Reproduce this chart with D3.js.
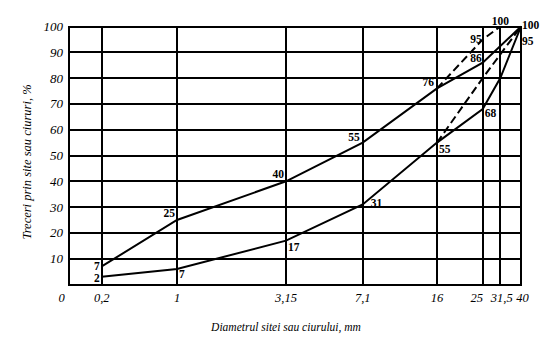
<!DOCTYPE html>
<html><head><meta charset="utf-8">
<script src="https://cdn.jsdelivr.net/npm/d3@7/dist/d3.min.js"></script>
<style>body{margin:0;background:#fff}svg{display:block}
svg text{font-family:"Liberation Serif","Times New Roman","DejaVu Serif",serif}</style>
</head><body><svg id="c" width="557" height="352"></svg>
<script>
const xTicks = [0, 0.2, 1, 3.15, 7.1, 16, 25, 31.5, 40];
const xTickLabels = ["0", "0,2", "1", "3,15", "7,1", "16", "25", "31,5", "40"];
const yTicks = [10, 20, 30, 40, 50, 60, 70, 80, 90, 100];

const upperSieves = [0.2, 1, 3.15, 7.1, 16, 25, 40];
const upperValues = [7, 25, 40, 55, 76, 86, 100];
const upperLabels = ["7", "25", "40", "55", "76", "86", "100"];

const lowerSieves = [0.2, 1, 3.15, 7.1, 16, 25, 31.5, 40];
const lowerValues = [3, 6, 17, 31, 55, 68, 80, 100];
const lowerLabels = ["2", "7", "17", "31", "55", "68", "", "95"];

const upperDashSieves = [16, 25, 31.5];
const upperDashValues = [76, 95, 100];
const upperDashLabels = ["", "95", "100"];

const lowerDashSieves = [16, 25, 40];
const lowerDashValues = [55, 80, 100];

const xTitle = "Diametrul sitei sau ciurului, mm";
const yTitle = "Treceri prin site sau ciururi, %";

const svg = d3.select("#c");
const x = d3.scaleLinear().domain(xTicks).range([69, 101.7, 177, 286, 362.7, 437, 482.7, 500.3, 521]);
const y = d3.scaleLinear().domain([0, 100]).range([284.5, 26.5]);

// grid
const g = svg.append("g").attr("stroke", "#000").attr("stroke-width", 2).attr("shape-rendering", "crispEdges");
g.selectAll("line.h").data([0].concat(yTicks)).join("line").attr("class","h")
  .attr("x1", x(0) - 1).attr("x2", x(40) + 1).attr("y1", d => y(d)).attr("y2", d => y(d));
g.selectAll("line.v").data(xTicks).join("line").attr("class","v")
  .attr("x1", d => x(d)).attr("x2", d => x(d)).attr("y1", y(0) + 1).attr("y2", y(100) - 1);

// y tick labels
svg.append("g").selectAll("text").data(yTicks).join("text")
  .attr("x", 63).attr("y", d => y(d)).attr("dy", "0.35em").attr("text-anchor", "end")
  .attr("font-style", "italic").attr("font-size", 13)
  .text(d => d);

// x tick labels
const xOff = {0: -7.5, 25: -6, 31.5: 1.5, 40: 1.5};
svg.append("g").selectAll("text").data(xTicks).join("text")
  .attr("x", d => x(d) + (xOff[d] || 0)).attr("y", 302).attr("text-anchor", "middle")
  .attr("font-style", "italic").attr("font-size", 12.5)
  .text((d, i) => xTickLabels[i]);

// titles
svg.append("text").attr("x", 286).attr("y", 331).attr("text-anchor", "middle")
  .attr("font-style", "italic").attr("font-size", 11.5).text(xTitle);
svg.append("text").attr("transform", "translate(31,162) rotate(-90)").attr("text-anchor", "middle")
  .attr("font-style", "italic").attr("font-size", 12.5).text(yTitle);

// curves
const line = d3.line().x(d => x(d[0])).y(d => y(d[1]));
function curve(xs, vs, dash) {
  svg.append("path").datum(xs.map((s, i) => [s, vs[i]]))
    .attr("d", line).attr("fill", "none").attr("stroke", "#000").attr("stroke-width", 2)
    .attr("stroke-dasharray", dash || null);
}
curve(upperSieves, upperValues);
curve(lowerSieves, lowerValues);
curve(upperDashSieves, upperDashValues, "8,4");
curve(lowerDashSieves, lowerDashValues, "8,4");

// point labels: [dx, dy, anchor]
const upperPos = [[-2, 4, "end"], [-2, -3, "end"], [-2, -3, "end"], [-3, -2, "end"], [-3, -2, "end"], [-1, -1, "end"], [1, 2, "start"]];
const lowerPos = [[-2, 5, "end"], [2, 9, "start"], [2, 10, "start"], [8, 2, "start"], [2, 10, "start"], [2, 8, "start"], [0, 0, "start"], [1, 18.5, "start"]];
const upperDashPos = [[0,0,"end"], [-1, 4, "end"], [0, -1.5, "middle"]];
function labels(xs, vs, ls, pos) {
  svg.append("g").selectAll("text").data(xs.map((s, i) => ({s, v: vs[i], l: ls[i], p: pos[i]})).filter(d => d.l))
    .join("text")
    .attr("x", d => x(d.s) + d.p[0]).attr("y", d => y(d.v) + d.p[1])
    .attr("text-anchor", d => d.p[2])
    .attr("font-weight", "bold").attr("font-size", 11.5)
    .text(d => d.l);
}
labels(upperSieves, upperValues, upperLabels, upperPos);
labels(lowerSieves, lowerValues, lowerLabels, lowerPos);
labels(upperDashSieves, upperDashValues, upperDashLabels, upperDashPos);
</script></body></html>
